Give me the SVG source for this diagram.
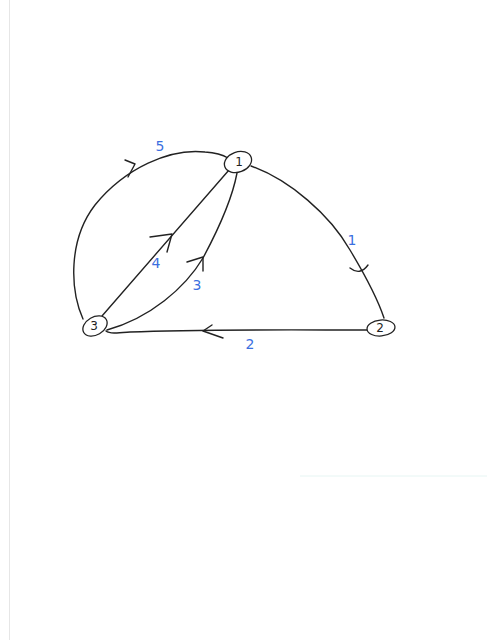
<svg xmlns="http://www.w3.org/2000/svg" width="487" height="640" viewBox="0 0 487 640">
<style>
.e{fill:none;stroke:#222;stroke-width:1.4;stroke-linecap:round;stroke-linejoin:round}
.n{fill:#fff;stroke:#222;stroke-width:1.3}
.nt{font-family:"DejaVu Sans",sans-serif;font-size:12px;fill:#222;text-anchor:middle}
.lb{font-family:"DejaVu Sans",sans-serif;font-size:14px;fill:#3b6fe0;text-anchor:middle}
</style>
<rect width="487" height="640" fill="#fff"/>
<line x1="9.5" y1="0" x2="9.5" y2="640" stroke="#e6e6e6" stroke-width="1"/>
<line x1="300" y1="476" x2="487" y2="476" stroke="#e6f5f3" stroke-width="1"/>
<g id="connectors">
<path class="e" d="M83,319 C70,290 68,240 95,205 C125,168 170,148 205,152 Q220,153 228,158"/>
<polyline class="e" points="125,160 135,164 128,177"/>
<path class="e" d="M102,316 L229,170"/>
<polyline class="e" points="150,237 172,234 167,252"/>
<path class="e" d="M107,330 C150,318 185,288 203,258 C218,230 232,200 237,173"/>
<polyline class="e" points="187,262 203,257 203,271"/>
<path class="e" d="M251,166 C290,180 330,215 350,250 C365,275 378,300 384,318"/>
<path class="e" d="M350,268 Q360,276 368,265"/>
<path class="e" d="M367,330 C300,330 200,329 130,332 C118,333 110,334 106,331"/>
<polyline class="e" points="212,325 203,331 223,338"/>
<text class="lb" x="160" y="151">5</text>
<text class="lb" x="156" y="268">4</text>
<text class="lb" x="197" y="290">3</text>
<text class="lb" x="352" y="245">1</text>
<text class="lb" x="250" y="349">2</text>
</g>
<g id="node1">
<ellipse class="n" cx="238" cy="162" rx="14" ry="10" transform="rotate(-20 238 162)"/>
<text class="nt" x="239" y="166">1</text>
</g>
<g id="node2">
<ellipse class="n" cx="381" cy="328" rx="14" ry="8" transform="rotate(-5 381 328)"/>
<text class="nt" x="380" y="332">2</text>
</g>
<g id="node3">
<ellipse class="n" cx="95" cy="326" rx="13" ry="9" transform="rotate(-30 95 326)"/>
<text class="nt" x="94" y="330">3</text>
</g>
</svg>
